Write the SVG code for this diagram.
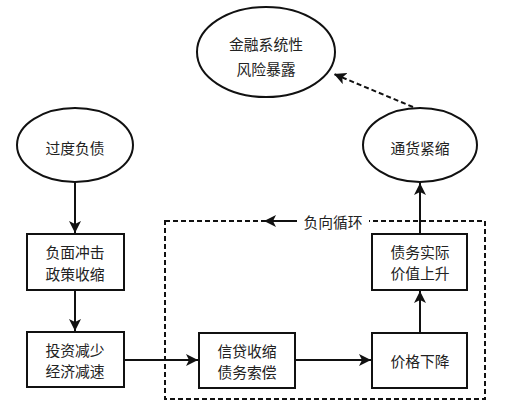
<svg xmlns="http://www.w3.org/2000/svg" width="508" height="418" viewBox="0 0 508 418">
<style>
.n{fill:#fff;stroke:#111;stroke-width:2}
.t{font-family:"Noto Sans CJK SC","Noto Sans",sans-serif;font-size:14.8px;fill:#222;text-anchor:middle;dominant-baseline:central}
.c{stroke:#111;stroke-width:2;fill:none}
.d{stroke:#111;stroke-width:2;fill:none;stroke-dasharray:5,3}
</style>
<defs>
<marker id="ah" viewBox="0 0 12 12" refX="12" refY="6" markerWidth="12" markerHeight="12" markerUnits="userSpaceOnUse" orient="auto">
<path d="M0,0 L12,6 L0,12 L3,6 Z" fill="#111"/>
</marker>
</defs>
<rect width="508" height="418" fill="#fff"/>
<g id="connectors">
<rect class="d" x="165" y="221" width="320" height="178"/>
<rect x="297" y="212" width="72" height="18" fill="#fff"/>
<line class="c" x1="297" y1="221" x2="264" y2="221" marker-end="url(#ah)"/>
<line class="c" x1="75" y1="182" x2="75" y2="233" marker-end="url(#ah)"/>
<line class="c" x1="75" y1="290" x2="75" y2="331" marker-end="url(#ah)"/>
<line class="c" x1="124" y1="360" x2="198" y2="360" marker-end="url(#ah)"/>
<line class="c" x1="295" y1="360" x2="371" y2="360" marker-end="url(#ah)"/>
<line class="c" x1="420" y1="333" x2="420" y2="291" marker-end="url(#ah)"/>
<line class="c" x1="420" y1="234" x2="420" y2="183" marker-end="url(#ah)"/>
<line class="d" x1="413" y1="107" x2="334" y2="74" marker-end="url(#ah)"/>
</g>
<text class="t" x="333" y="221">负向循环</text>
<g id="n-risk">
<ellipse class="n" cx="266" cy="52" rx="69" ry="45"/>
<text class="t" x="266" y="43">金融系统性</text>
<text class="t" x="266" y="68">风险暴露</text>
</g>
<g id="n-deflation">
<ellipse class="n" cx="420" cy="145" rx="57" ry="37"/>
<text class="t" x="420" y="147">通货紧缩</text>
</g>
<g id="n-debt">
<ellipse class="n" cx="75" cy="145" rx="58" ry="37"/>
<text class="t" x="75" y="147">过度负债</text>
</g>
<g id="n-shock">
<rect class="n" x="27" y="234" width="97" height="56"/>
<text class="t" x="75" y="251.5">负面冲击</text>
<text class="t" x="75" y="273">政策收缩</text>
</g>
<g id="n-invest">
<rect class="n" x="27" y="332" width="97" height="55"/>
<text class="t" x="75" y="349">投资减少</text>
<text class="t" x="75" y="370.5">经济减速</text>
</g>
<g id="n-credit">
<rect class="n" x="199" y="333" width="96" height="55"/>
<text class="t" x="247" y="350">信贷收缩</text>
<text class="t" x="247" y="371.5">债务索偿</text>
</g>
<g id="n-price">
<rect class="n" x="372" y="333" width="95" height="55"/>
<text class="t" x="420" y="360">价格下降</text>
</g>
<g id="n-realdebt">
<rect class="n" x="372" y="234" width="95" height="56"/>
<text class="t" x="420" y="251">债务实际</text>
<text class="t" x="420" y="272.5">价值上升</text>
</g>
</svg>
